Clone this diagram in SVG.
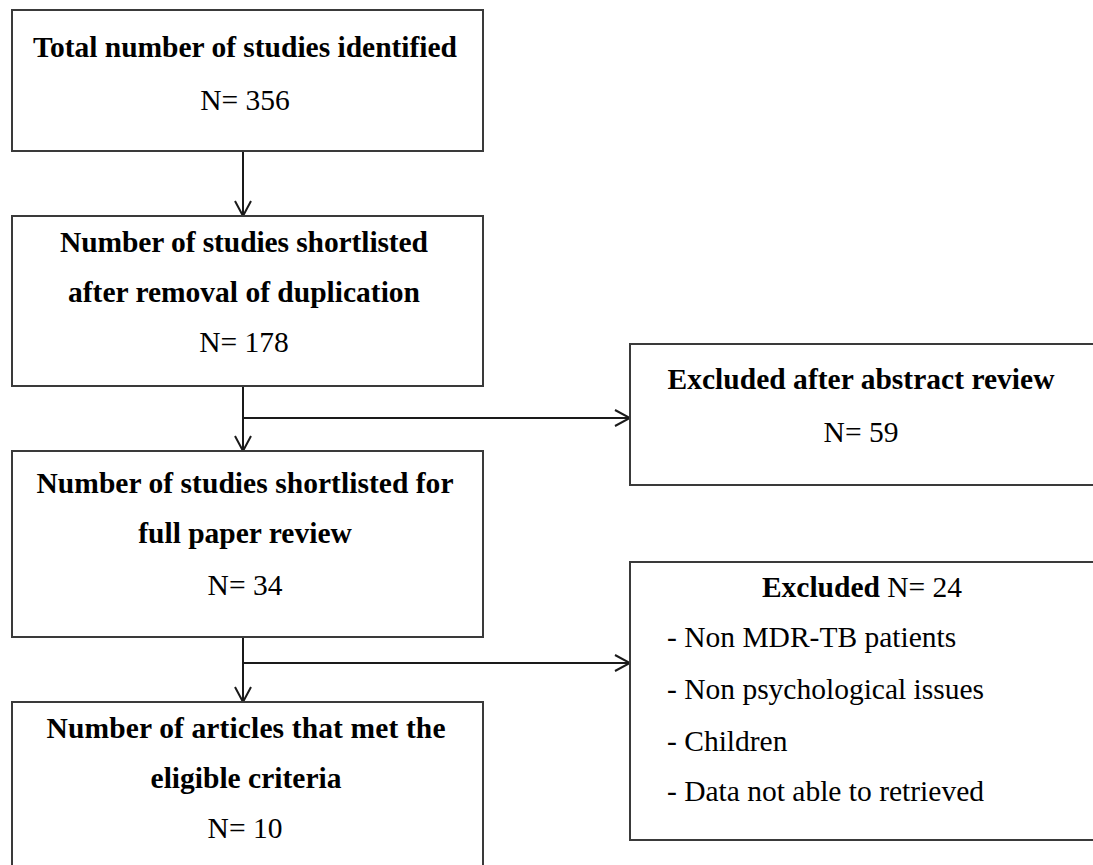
<svg xmlns="http://www.w3.org/2000/svg" width="1093" height="865" viewBox="0 0 1093 865">
<style>
.box{fill:#fff;stroke:#3a3a3a;stroke-width:2}
.b{font-family:"Liberation Serif","Times New Roman",serif;font-weight:bold;font-size:29.5px;fill:#000}
.r{font-family:"Liberation Serif","Times New Roman",serif;font-size:29.5px;fill:#000}
.c{text-anchor:middle}
.ln{fill:none;stroke:#1a1a1a;stroke-width:2}
</style>
<defs>
<marker id="ah" markerUnits="userSpaceOnUse" markerWidth="18" markerHeight="18" viewBox="0 0 18 18" refX="17" refY="9" orient="auto">
<path d="M2,1 L17,9 L2,17" fill="none" stroke="#1a1a1a" stroke-width="2"/>
</marker>
</defs>
<rect width="1093" height="865" fill="#fff"/>
<g id="connectors">
<line class="ln" x1="243" y1="151" x2="243" y2="216" marker-end="url(#ah)"/>
<line class="ln" x1="243" y1="386" x2="243" y2="451" marker-end="url(#ah)"/>
<line class="ln" x1="243" y1="418" x2="630" y2="418" marker-end="url(#ah)"/>
<line class="ln" x1="243" y1="637" x2="243" y2="702" marker-end="url(#ah)"/>
<line class="ln" x1="243" y1="663" x2="630" y2="663" marker-end="url(#ah)"/>
</g>
<g id="n1">
<rect class="box" x="12" y="10" width="471" height="141"/>
<text class="b c" x="245" y="57" textLength="424">Total number of studies identified</text>
<text class="r c" x="245" y="110">N= 356</text>
</g>
<g id="n2">
<rect class="box" x="12" y="216" width="471" height="170"/>
<text class="b c" x="244" y="252" textLength="368">Number of studies shortlisted</text>
<text class="b c" x="244" y="302" textLength="352">after removal of duplication</text>
<text class="r c" x="244" y="352">N= 178</text>
</g>
<g id="n3">
<rect class="box" x="630" y="344" width="480" height="141"/>
<text class="b c" x="861" y="389" textLength="387">Excluded after abstract review</text>
<text class="r c" x="861" y="442">N= 59</text>
</g>
<g id="n4">
<rect class="box" x="12" y="451" width="471" height="186"/>
<text class="b c" x="245" y="493" textLength="417">Number of studies shortlisted  for</text>
<text class="b c" x="245" y="543">full paper review</text>
<text class="r c" x="245" y="595">N= 34</text>
</g>
<g id="n5">
<rect class="box" x="630" y="562" width="480" height="278"/>
<text class="c" x="862" y="597"><tspan class="b">Excluded</tspan><tspan class="r"> N= 24</tspan></text>
<text class="r" x="667" y="647">- Non MDR-TB patients</text>
<text class="r" x="667" y="699">- Non psychological issues</text>
<text class="r" x="667" y="751">- Children</text>
<text class="r" x="667" y="801">- Data not able to retrieved</text>
</g>
<g id="n6">
<rect class="box" x="12" y="702" width="471" height="200"/>
<text class="b c" x="246" y="738" textLength="399">Number of articles that met the</text>
<text class="b c" x="246" y="788">eligible criteria</text>
<text class="r c" x="245" y="838">N= 10</text>
</g>
</svg>
